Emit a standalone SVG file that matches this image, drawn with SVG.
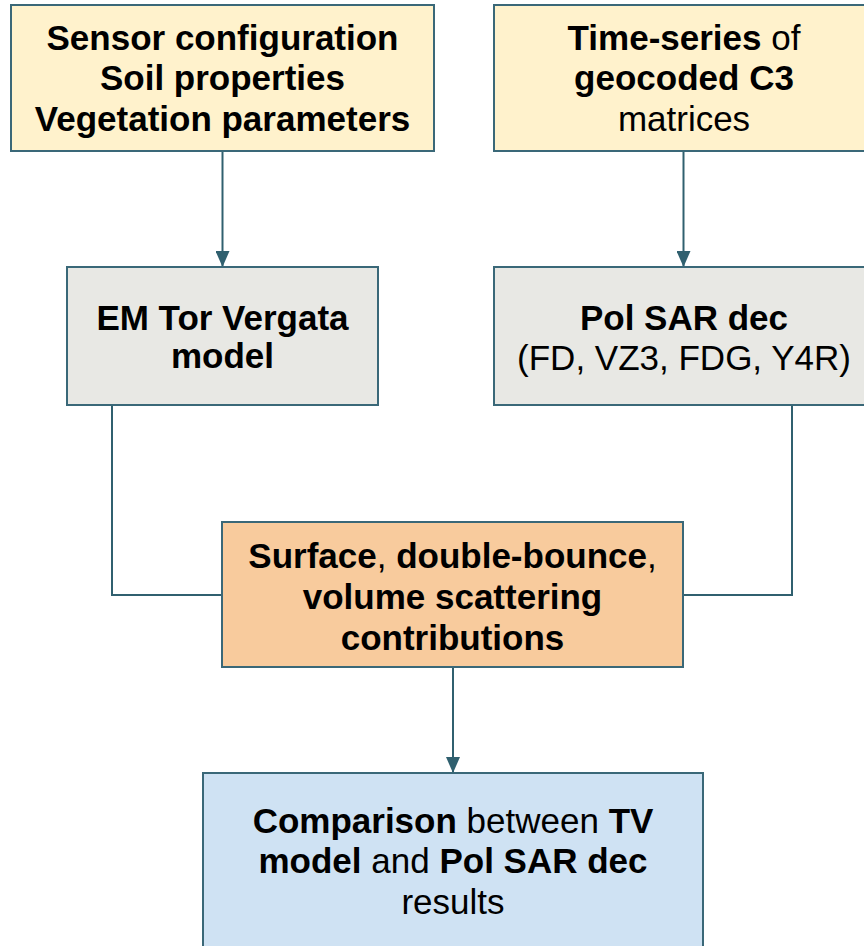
<svg xmlns="http://www.w3.org/2000/svg" width="864" height="946" viewBox="0 0 864 946">
<style>
.box{stroke:#3a6878;stroke-width:2}
.y{fill:#fff2cc}.g{fill:#e8e8e4}.o{fill:#f8cb9d}.b{fill:#cfe2f3}
text{font-family:"Liberation Sans",Arial,sans-serif;font-size:35px;fill:#000;text-anchor:middle}
.bd{font-weight:bold}
.ln{fill:none;stroke:#30606f;stroke-width:2}
</style>
<defs>
<marker id="ah" viewBox="0 0 16 14" refX="16" refY="7" markerWidth="16" markerHeight="14" markerUnits="userSpaceOnUse" orient="auto">
<path d="M0,0 L16,7 L0,14 Z" fill="#30606f"/>
</marker>
</defs>
<rect width="864" height="946" fill="#fff"/>
<g id="connectors">
<line class="ln" x1="222.5" y1="151" x2="222.5" y2="267" marker-end="url(#ah)"/>
<line class="ln" x1="683.5" y1="151" x2="683.5" y2="267" marker-end="url(#ah)"/>
<polyline class="ln" points="112,405 112,595 222,595"/>
<polyline class="ln" points="792,405 792,595 683,595"/>
<line class="ln" x1="453" y1="667" x2="453" y2="773" marker-end="url(#ah)"/>
</g>
<g id="n1">
<rect class="box y" x="11" y="5" width="423" height="146"/>
<text class="bd" x="222.5" y="50">Sensor configuration</text>
<text class="bd" x="222.5" y="90">Soil properties</text>
<text class="bd" x="222.5" y="131">Vegetation parameters</text>
</g>
<g id="n2">
<rect class="box y" x="494" y="5" width="380" height="146"/>
<text x="684" y="50"><tspan class="bd">Time-series</tspan> of</text>
<text class="bd" x="684" y="90">geocoded C3</text>
<text x="684" y="131">matrices</text>
</g>
<g id="n3">
<rect class="box g" x="67" y="267" width="311" height="138"/>
<text class="bd" x="222.5" y="330">EM Tor Vergata</text>
<text class="bd" x="222.5" y="368">model</text>
</g>
<g id="n4">
<rect class="box g" x="494" y="267" width="380" height="138"/>
<text class="bd" x="684" y="330">Pol SAR dec</text>
<text x="684" y="370">(FD, VZ3, FDG, Y4R)</text>
</g>
<g id="n5">
<rect class="box o" x="222" y="522" width="461" height="145"/>
<text x="452.5" y="568"><tspan class="bd">Surface</tspan>, <tspan class="bd">double-bounce</tspan>,</text>
<text class="bd" x="452.5" y="609">volume scattering</text>
<text class="bd" x="452.5" y="650">contributions</text>
</g>
<g id="n6">
<rect class="box b" x="203" y="773" width="500" height="190"/>
<text x="453" y="833"><tspan class="bd">Comparison</tspan> between <tspan class="bd">TV</tspan></text>
<text x="453" y="873"><tspan class="bd">model</tspan> and <tspan class="bd">Pol SAR dec</tspan></text>
<text x="453" y="914">results</text>
</g>
</svg>
